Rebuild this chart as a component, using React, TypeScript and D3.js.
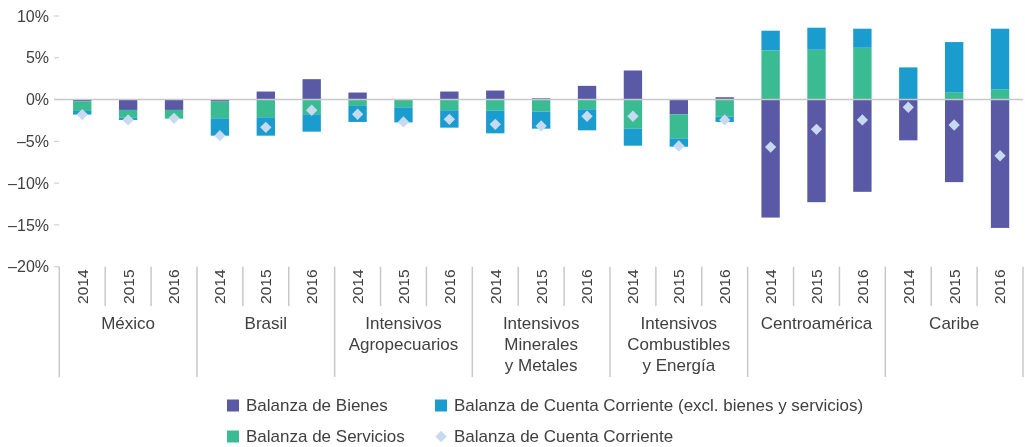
import React from "react";
import * as d3 from "d3";

// regions (label lines) and years
const groups = [
  ["México"],
  ["Brasil"],
  ["Intensivos", "Agropecuarios"],
  ["Intensivos", "Minerales", "y Metales"],
  ["Intensivos", "Combustibles", "y Energía"],
  ["Centroamérica"],
  ["Caribe"],
];
const years = ["2014", "2015", "2016"];

// % del PIB, 3 years per region
const bienes = [-0.2, -1.24, -1.24, -0.24, 0.96, 2.44, 0.84, -0.05, 0.96, 1.08, 0.16, 1.64, 3.48, -1.76, 0.28, -14.12, -12.28, -11.04, -4.88, -9.88, -15.36];
const servicios = [-1.16, -0.92, -1.0, -2.0, -2.12, -1.76, -0.76, -0.88, -1.28, -1.32, -1.44, -1.16, -3.48, -2.88, -2.04, 5.88, 5.96, 6.2, 0.05, 0.88, 1.24];
const otros = [-0.44, -0.28, -0.05, -2.08, -2.2, -2.08, -1.92, -1.8, -2.08, -2.72, -2.04, -2.52, -2.04, -1.0, -0.64, 2.36, 2.64, 2.28, 3.8, 6.0, 7.24];
const cuenta = [-1.8, -2.44, -2.24, -4.32, -3.32, -1.28, -1.76, -2.68, -2.36, -2.96, -3.16, -2.0, -2.0, -5.56, -2.44, -5.68, -3.56, -2.44, -0.92, -3.04, -6.72];

const yTicks = [10, 5, 0, -5, -10, -15, -20];

const seriesKeys = ["bienes", "servicios", "otros"];
const seriesNames = [
  "Balanza de Bienes",
  "Balanza de Servicios",
  "Balanza de Cuenta Corriente (excl. bienes y servicios)",
  "Balanza de Cuenta Corriente",
];
const colors = ["#5a59a6", "#3bbb92", "#1b9ccf", "#c8daf0"];

const W = 1025;
const H = 447;
const textColor = "#404040";
const lineColor = "#c8c8cc";
const font = "'Liberation Sans', Arial, sans-serif";

const App = () => {
  const rows = bienes.map((_, i) => ({
    bienes: bienes[i],
    servicios: servicios[i],
    otros: otros[i],
    cuenta: cuenta[i],
    g: Math.floor(i / years.length),
    year: years[i % years.length],
  }));

  const stacked = d3
    .stack<any>()
    .keys(seriesKeys)
    .offset(d3.stackOffsetDiverging)(rows);

  const x0 = d3
    .scaleBand<number>()
    .domain(groups.map((_, i) => i))
    .range([59.3, 1023])
    .padding(0);
  const gw = x0.bandwidth();
  const x1 = d3
    .scaleBand<string>()
    .domain(years)
    .range([0, gw])
    .paddingInner(0.6)
    .paddingOuter(0.3);

  const y = d3.scaleLinear().domain([-20, 10]).range([266.7, 16]);
  const axisY = y(-20);

  const barX = (r: any) => x0(r.g)! + x1(r.year)!;

  return (
    <div style={{ position: "fixed", left: 0, top: 0 }}>
      <svg width={W} height={H} style={{ display: "block", fontFamily: font }}>
        {/* y ticks */}
        {yTicks.map((t) => (
          <g key={t}>
            <line x1={54} x2={59} y1={y(t)} y2={y(t)} stroke={lineColor} strokeWidth={1} />
            <text
              x={49}
              y={y(t)}
              dy="0.35em"
              textAnchor="end"
              fontSize={16}
              fill={textColor}
            >
              {(t < 0 ? "–" + Math.abs(t) : t) + "%"}
            </text>
          </g>
        ))}

        {/* bars */}
        {stacked.map((s, si) => (
          <g key={s.key} fill={colors[si]}>
            {s.map((d, i) => (
              <rect
                key={i}
                x={barX(rows[i])}
                width={x1.bandwidth()}
                y={y(Math.max(d[0], d[1]))}
                height={Math.abs(y(d[0]) - y(d[1]))}
              />
            ))}
          </g>
        ))}

        {/* zero line */}
        <line x1={54} x2={1023} y1={y(0)} y2={y(0)} stroke={lineColor} strokeWidth={1.5} />

        {/* current account diamonds */}
        {rows.map((r, i) => (
          <rect
            key={i}
            x={-4}
            y={-4}
            width={8}
            height={8}
            fill={colors[3]}
            transform={`translate(${barX(r) + x1.bandwidth() / 2},${y(r.cuenta)}) rotate(45)`}
          />
        ))}

        {/* category axis */}
        {groups.map((lines, gi) => {
          const gx = x0(gi)!;
          return (
            <g key={gi}>
              <line x1={gx} x2={gx} y1={axisY} y2={377} stroke={lineColor} strokeWidth={1.5} />
              {years.map((yr, yi) => {
                const cx = gx + x1(yr)! + x1.bandwidth() / 2;
                return (
                  <g key={yr}>
                    {yi > 0 && (
                      <line
                        x1={gx + (yi * gw) / years.length}
                        x2={gx + (yi * gw) / years.length}
                        y1={axisY}
                        y2={306}
                        stroke={lineColor}
                        strokeWidth={1.5}
                      />
                    )}
                    <text
                      transform={`translate(${cx},269.5) rotate(-90)`}
                      textAnchor="end"
                      dy="0.35em"
                      fontSize={15.5}
                      fill={textColor}
                    >
                      {yr}
                    </text>
                  </g>
                );
              })}
              {lines.map((ln, li) => (
                <text
                  key={li}
                  x={gx + gw / 2}
                  y={329 + li * 21}
                  textAnchor="middle"
                  fontSize={17}
                  fill={textColor}
                >
                  {ln}
                </text>
              ))}
            </g>
          );
        })}
        <line x1={1023} x2={1023} y1={axisY} y2={377} stroke={lineColor} strokeWidth={1.5} />

        {/* legend */}
        {seriesNames.map((name, i) => {
          const col = i === 0 || i === 1 ? 0 : 1;
          const row = i === 0 || i === 2 ? 0 : 1;
          const lx = col === 0 ? 227 : 435;
          const ly = row === 0 ? 405.5 : 436.5;
          return (
            <g key={name}>
              {i < 3 ? (
                <rect x={lx} y={ly - 6} width={12} height={12} fill={colors[i]} />
              ) : (
                <rect
                  x={-4}
                  y={-4}
                  width={8}
                  height={8}
                  fill={colors[3]}
                  transform={`translate(${lx + 6},${ly}) rotate(45)`}
                />
              )}
              <text x={lx + 19} y={ly} dy="0.35em" fontSize={17} fill={textColor}>
                {name}
              </text>
            </g>
          );
        })}
      </svg>
    </div>
  );
};

export default App;
